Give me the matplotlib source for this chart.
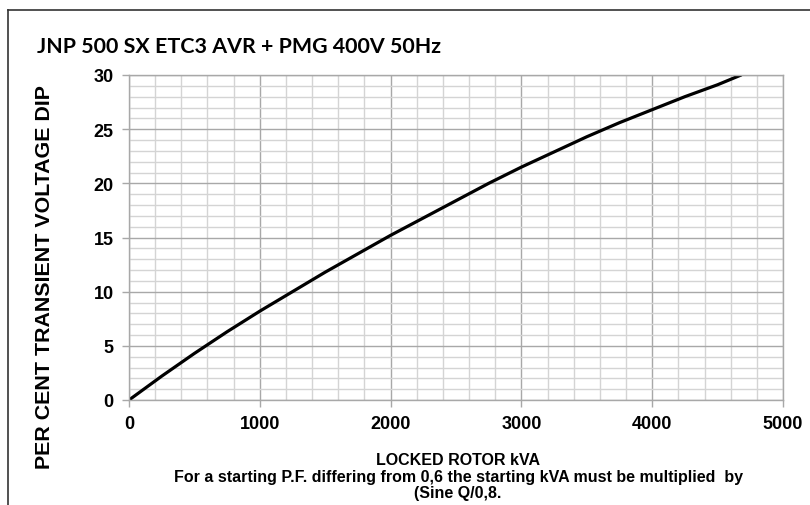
import matplotlib
matplotlib.use("Agg")
import matplotlib.pyplot as plt
from matplotlib.lines import Line2D
from matplotlib.ticker import MultipleLocator

kva = [0, 250, 500, 750, 1000, 1250, 1500, 1750, 2000, 2250, 2500, 2750,
       3000, 3250, 3500, 3750, 4000, 4250, 4500, 4680]
dip = [0, 2.2, 4.3, 6.3, 8.2, 10.0, 11.8, 13.5, 15.2, 16.8, 18.4, 20.0,
       21.5, 22.9, 24.3, 25.6, 26.8, 28.0, 29.1, 30.0]
xticks = [0, 1000, 2000, 3000, 4000, 5000]
yticks = [0, 5, 10, 15, 20, 25, 30]

title = "JNP 500 SX ETC3 AVR + PMG 400V 50Hz"
ylabel = "PER CENT TRANSIENT VOLTAGE DIP"
xlabel_lines = ["LOCKED ROTOR kVA",
                "For a starting P.F. differing from 0,6 the starting kVA must be multiplied  by",
                "(Sine Q/0,8."]

W, H = 810, 506
fig = plt.figure(figsize=(W / 100, H / 100), dpi=100)
ax = fig.add_axes([129 / W, 1 - 401 / H, 654 / W, 325 / H])

ax.set_xlim(0, 5000)
ax.set_ylim(0, 30)
ax.set_xticks(xticks)
ax.set_yticks(yticks)
ax.xaxis.set_minor_locator(MultipleLocator(200))
ax.yaxis.set_minor_locator(MultipleLocator(1))
ax.grid(which="minor", color="#d4d4d4", linewidth=1.0)
ax.grid(which="major", color="#a8a8a8", linewidth=1.0)
ax.set_axisbelow(True)
for s in ax.spines.values():
    s.set_color("#a8a8a8")
    s.set_linewidth(1.0)
ax.tick_params(which="major", length=5, color="#a8a8a8", width=1.0)
ax.tick_params(which="minor", length=0)
ax.tick_params(axis="x", pad=6)
ax.tick_params(axis="y", pad=6)
for lab in ax.get_xticklabels() + ax.get_yticklabels():
    lab.set_fontfamily("Liberation Sans")
    lab.set_fontweight("bold")
    lab.set_fontsize(13)

ax.plot(kva, dip, color="black", linewidth=2.3, solid_capstyle="round")

fig.text(37 / W, 1 - 47 / H, title, family="Lato", weight="bold", fontsize=15.4,
         ha="left", va="center")
fig.text(45 / W, 1 - 277 / H, ylabel, family="Liberation Sans", weight="bold",
         fontsize=15.4, rotation=90, ha="center", va="center")
ys = [461, 478, 494]
for txt, yy in zip(xlabel_lines, ys):
    fig.text(458 / W, 1 - yy / H, txt, family="Liberation Sans", weight="bold",
             fontsize=11.5, ha="center", va="center")

# outer frame
fig.add_artist(Line2D([8 / W, 8 / W], [0, 1 - 11 / H], transform=fig.transFigure,
                      color="#333333", linewidth=1.2))
fig.add_artist(Line2D([8 / W, 1], [1 - 11 / H, 1 - 11 / H], transform=fig.transFigure,
                      color="#333333", linewidth=1.2))

fig.savefig("out.png", dpi=100)
